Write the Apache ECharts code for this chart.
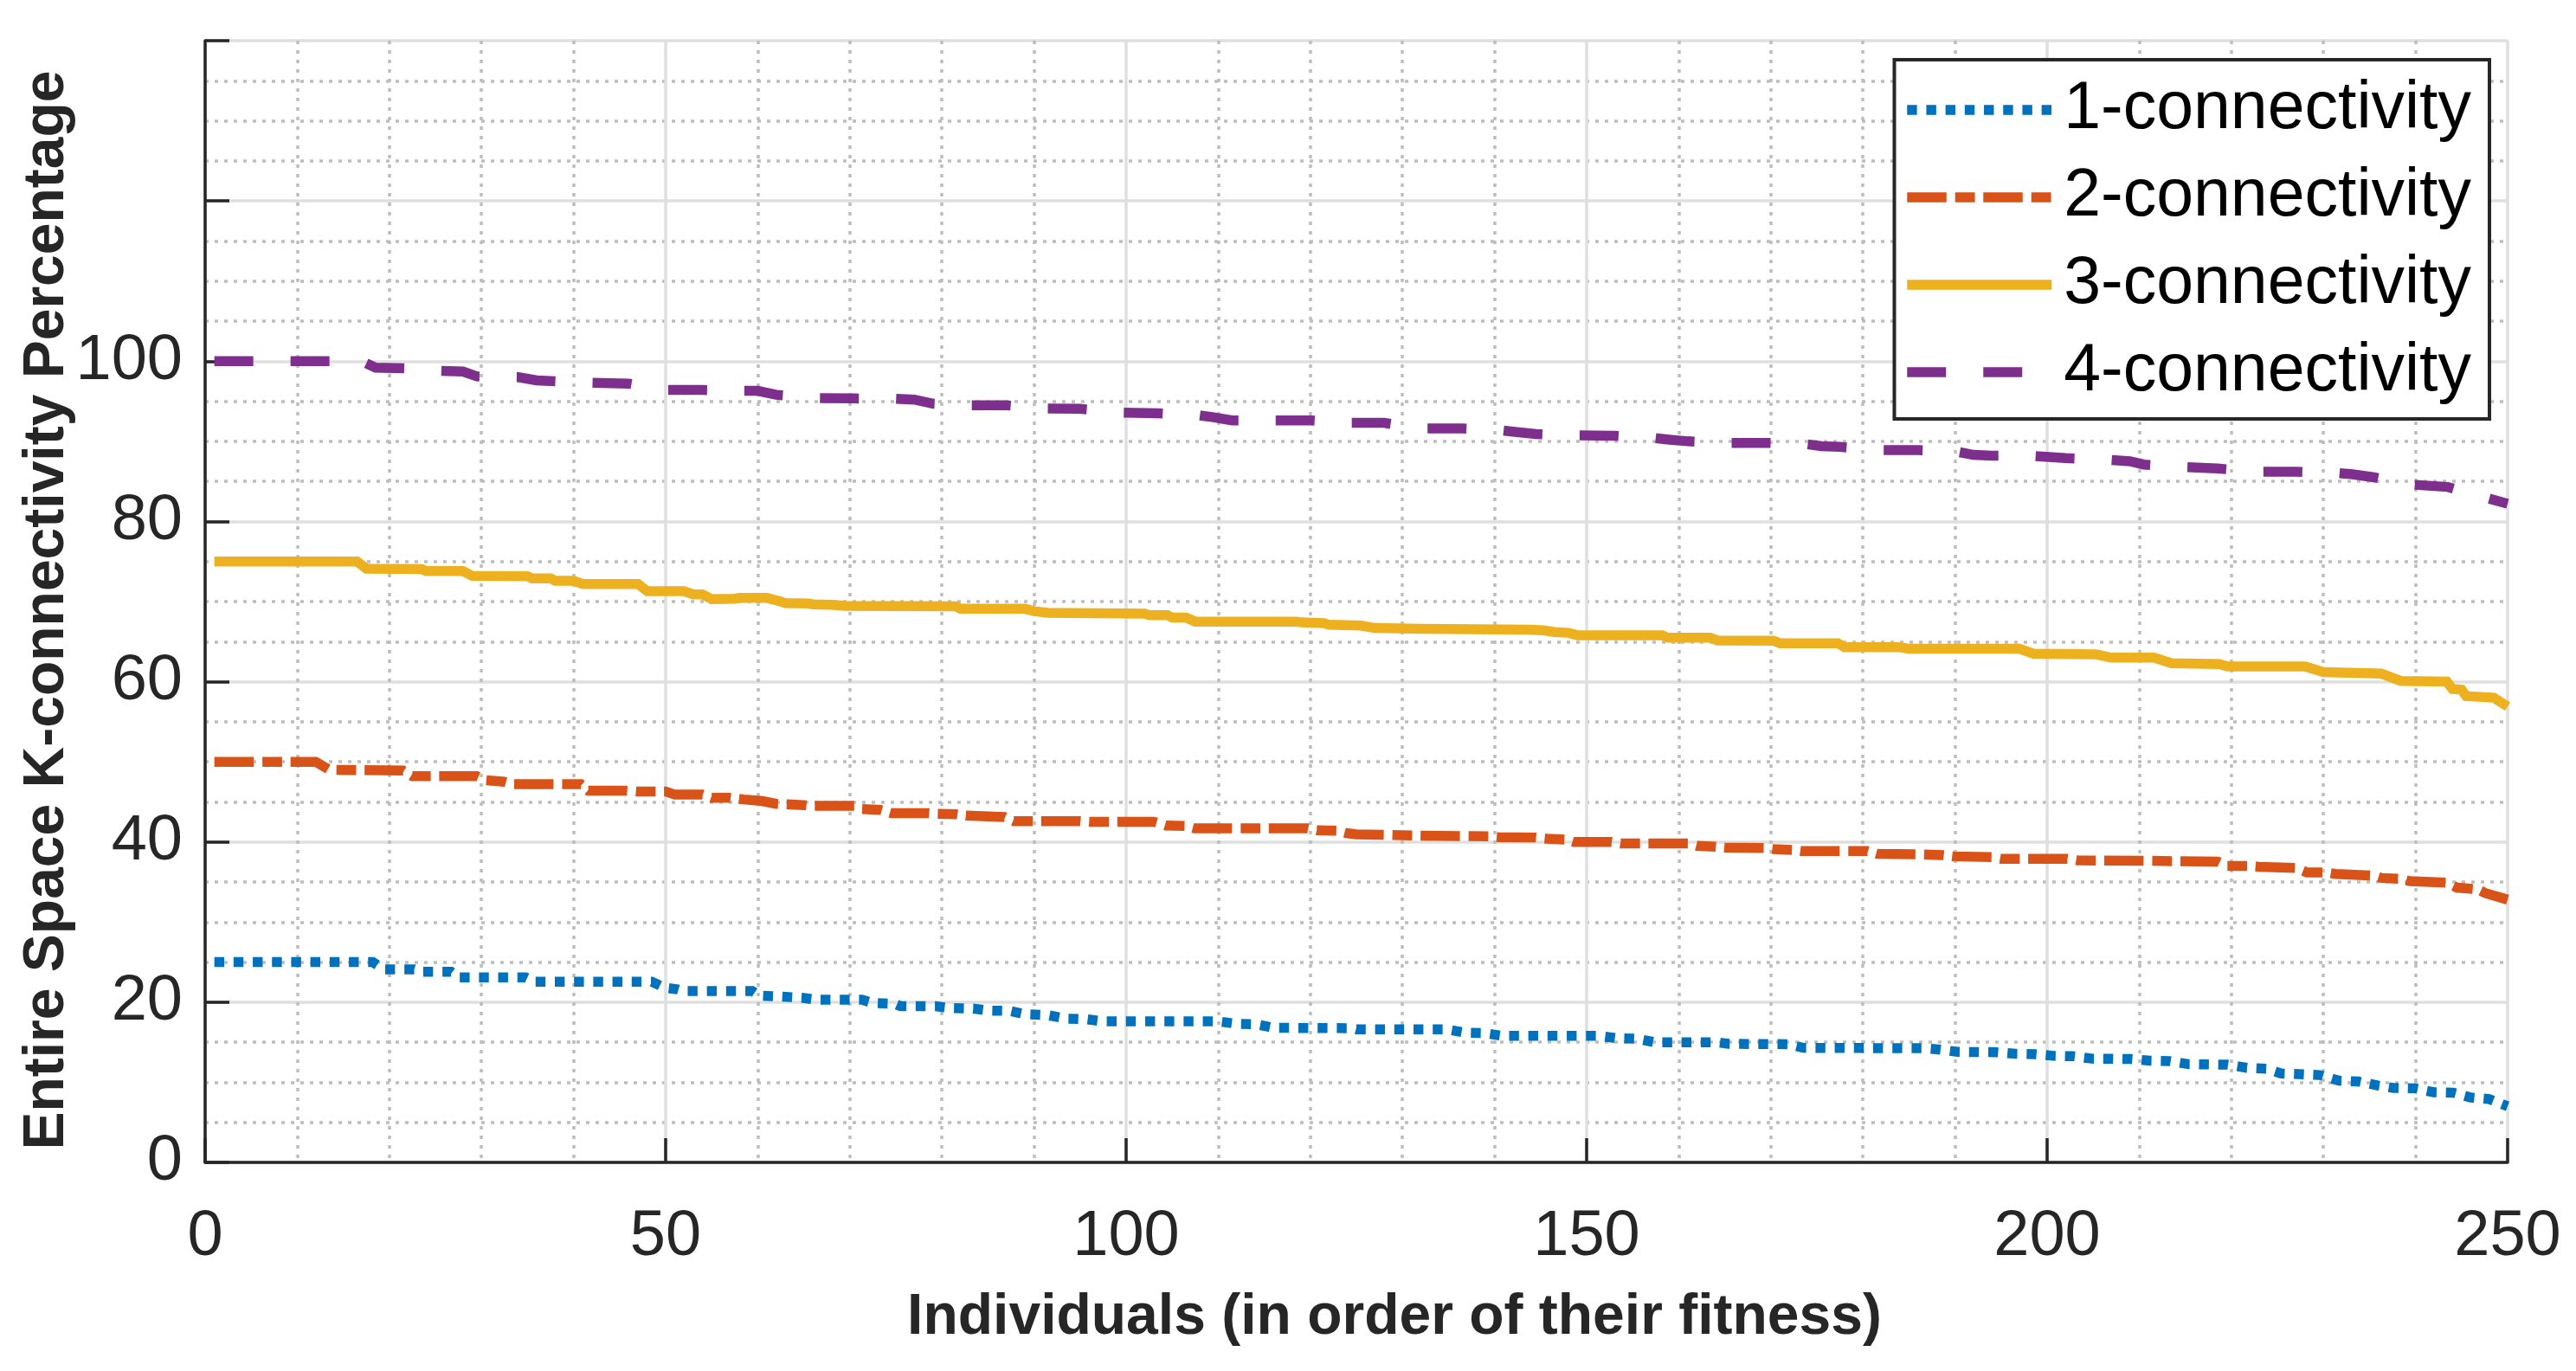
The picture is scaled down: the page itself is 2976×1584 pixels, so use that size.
<!DOCTYPE html>
<html>
<head>
<meta charset="utf-8">
<script src="https://cdn.jsdelivr.net/npm/echarts@6/dist/echarts.min.js"></script>
<style>
html,body{margin:0;padding:0;background:#fff;}
#chart{width:2976px;height:1584px;}
</style>
</head>
<body>
<div id="chart"></div>
<script>
// ---- data (x = individual index, y = percentage) ----
var seriesNames = ['1-connectivity', '2-connectivity', '3-connectivity', '4-connectivity'];
var xTicks = [0, 50, 100, 150, 200, 250];
var yTickLabels = [0, 20, 40, 60, 80, 100];

var conn1 = [[1,25],[18.2,25],[19.4,24.1],[22.7,24.1],[23.5,23.8],[26.7,23.8],[27.5,23.1],[34.8,23.1],[35.8,22.55],[48.5,22.55],[49.9,21.8],[51.3,21.6],[51.9,21.4],[59.4,21.4],[60.2,20.8],[62.5,20.7],[64.8,20.55],[66.4,20.3],[71.3,20.3],[72.5,19.9],[74.9,19.8],[75.5,19.5],[79.3,19.5],[81,19.25],[83.4,19.2],[85,18.95],[87.4,18.9],[89,18.5],[91.4,18.4],[93.5,17.95],[95.5,17.9],[97.5,17.6],[110,17.6],[112,17.3],[114,17.25],[116,16.8],[124.5,16.75],[125,16.6],[134.8,16.6],[136.8,16.2],[138.8,16.15],[140.8,15.8],[151.3,15.8],[153.3,15.5],[155.4,15.45],[157.4,15.0],[164.2,15.0],[165.4,14.8],[171.9,14.75],[173.5,14.3],[186.4,14.25],[188.2,14.1],[190.3,13.8],[194.5,13.75],[196.6,13.55],[198.7,13.5],[200.7,13.3],[202.8,13.25],[204.9,12.95],[209.1,12.9],[211.2,12.7],[213.3,12.65],[215.4,12.25],[219.6,12.2],[221.7,11.8],[223.8,11.7],[225.4,11.1],[229.6,10.9],[231.7,10.2],[233.8,10.1],[235.9,9.6],[237.6,9.3],[239.9,9.25],[242,8.75],[244.1,8.7],[246,8.1],[248,7.9],[250,7.0]];

var conn2 = [[1,50],[12,50],[13.5,49.0],[21.5,48.9],[22.5,48.2],[29.5,48.2],[30.5,47.7],[32.5,47.5],[33.5,47.2],[40.8,47.2],[41.6,46.4],[45.6,46.4],[46.8,46.3],[50,46.3],[51,45.9],[54,45.9],[55,45.5],[57,45.5],[58.5,45.3],[60.5,45.1],[62,44.75],[65,44.6],[66,44.5],[70.5,44.5],[71.3,44.1],[73.3,44.0],[74.5,43.6],[78.5,43.6],[79.5,43.5],[81.6,43.45],[82.6,43.3],[86.8,43.1],[87.8,42.6],[95,42.6],[96,42.5],[103,42.5],[104.3,42.05],[106.4,42.0],[107.4,41.7],[119.7,41.7],[120.7,41.45],[122.9,41.4],[123.9,41.1],[125,40.95],[128,40.9],[131,40.8],[139.4,40.7],[140.4,40.6],[144.5,40.55],[145.7,40.4],[147.7,40.3],[148.6,40.0],[152.7,40.0],[153.7,39.8],[161,39.8],[162,39.5],[164,39.4],[165,39.3],[169.3,39.25],[170.3,39.1],[172.3,39.0],[173.3,38.85],[180.5,38.85],[181.6,38.5],[186,38.45],[188.7,38.35],[189.8,38.2],[194,38.1],[195,37.9],[202.2,37.9],[203.3,37.7],[210.6,37.65],[213.7,37.6],[218.5,37.55],[219.5,37.0],[222,37.0],[223,36.9],[227,36.75],[228.2,36.2],[230.2,36.2],[231.3,36.0],[235.5,35.8],[236.3,35.5],[238.4,35.4],[239.4,35.1],[243.4,34.9],[244.5,34.3],[246.7,34.1],[247.6,33.6],[250,32.8]];

var conn3 = [[1,75],[16.5,75],[17.5,74.1],[23.5,74.05],[24,73.8],[28,73.8],[29,73.2],[35,73.15],[35.5,72.9],[37.5,72.9],[38,72.6],[40,72.6],[41,72.2],[47,72.2],[48,71.3],[52,71.3],[53,70.9],[54,70.9],[55,70.3],[57.5,70.35],[58,70.45],[61,70.45],[62.5,70.0],[63,69.8],[65.5,69.75],[66,69.65],[68,69.6],[69.5,69.45],[81.5,69.4],[82,69.1],[89,69.1],[90,68.8],[91.5,68.6],[102,68.5],[102.5,68.3],[104.5,68.3],[105,68.0],[106.5,68.0],[107.5,67.5],[118.5,67.5],[119,67.4],[121.5,67.3],[122,67.1],[125.5,67.0],[127,66.7],[132,66.6],[143.7,66.5],[145.3,66.4],[146.5,66.2],[148,66.1],[149,65.8],[158.2,65.8],[158.8,65.5],[163.4,65.5],[164.2,65.15],[170.3,65.1],[171,64.8],[177.3,64.8],[178,64.3],[184,64.3],[185,64.1],[197,64.1],[198.5,63.5],[205.3,63.4],[207,63.0],[211.6,63.0],[213.5,62.3],[218.7,62.2],[219.6,61.9],[228,61.9],[230,61.2],[236.3,61.0],[238.4,60.1],[243.4,60.0],[244,59.1],[245,59.0],[245.5,58.2],[248.5,58.0],[250,56.9]];

var conn4 = [[1,100],[17,100],[18.5,99.2],[22,99.1],[25.5,98.8],[28,98.7],[29.5,98.1],[34,98.0],[36,97.6],[38,97.5],[42,97.3],[46,97.2],[50,96.4],[54,96.4],[58,96.3],[60,96.3],[62,95.8],[66.5,95.4],[70.5,95.35],[75,95.3],[77,95.2],[79,94.7],[83,94.5],[87,94.5],[91,94.1],[95,94.05],[99,93.6],[103.5,93.5],[107.5,93.3],[109.5,93.0],[111.5,92.6],[120,92.6],[124,92.3],[128,92.3],[132,91.6],[136.5,91.6],[140.5,91.4],[142,91.2],[144.5,90.9],[148.5,90.75],[153,90.7],[157,90.45],[159,90.2],[161,90.0],[165,89.8],[169.5,89.8],[173.5,89.7],[175.5,89.4],[177.5,89.3],[181.5,88.9],[186,88.9],[190,88.75],[192,88.3],[194,88.2],[198,88.2],[202,87.9],[206.5,87.7],[209,87.5],[210.5,87.1],[214.5,86.8],[218.5,86.6],[223,86.2],[227,86.2],[231,86.1],[233,85.9],[235.5,85.5],[239.5,84.6],[243.5,84.3],[247.5,83.0],[250,82.2]];

var seriesData = [conn1, conn2, conn3, conn4];
var colors = ['#0072BD', '#D95319', '#EDB120', '#7E2F8E'];
var dashes = [[11.4, 10.8], [45.5, 10, 22.8, 9.7], 'solid', [45, 43]];

var FONT = "'Liberation Sans', Arial, Helvetica, sans-serif";
var LW = 11.5;

var chart = echarts.init(document.getElementById('chart'), null, {renderer: 'canvas'});

var series = seriesNames.map(function (name, i) {
  return {
    name: name,
    type: 'line',
    data: seriesData[i],
    symbol: 'none',
    showSymbol: false,
    silent: true,
    z: 3 + i,
    lineStyle: {color: colors[i], width: LW, type: dashes[i], cap: 'butt', join: 'miter'},
    itemStyle: {color: colors[i]}
  };
});

var option = {
  animation: false,
  backgroundColor: '#ffffff',
  textStyle: {fontFamily: FONT},
  grid: {left: 237, right: 79, top: 47, bottom: 241, containLabel: false},
  legend: {
    orient: 'vertical',
    right: 100,
    top: 69,
    data: seriesNames,
    backgroundColor: '#ffffff',
    borderColor: '#262626',
    borderWidth: 4,
    borderRadius: 0,
    padding: [18, 21, 14, 9],
    itemWidth: 167,
    itemHeight: 12,
    itemGap: 21,
    itemStyle: {opacity: 0},
    lineStyle: {width: LW, cap: 'butt'},
    textStyle: {fontFamily: FONT, fontSize: 77, color: '#000000', lineHeight: 80, padding: [0, 0, 0, 9]},
    selectedMode: false
  },
  xAxis: {
    type: 'value',
    min: 0,
    max: 250,
    interval: 50,
    name: 'Individuals (in order of their fitness)',
    nameLocation: 'middle',
    nameGap: 147,
    nameMoveOverlap: false,
    nameTextStyle: {fontFamily: FONT, fontSize: 66, fontWeight: 'bold', color: '#262626', padding: [0, 0, 0, 88]},
    axisLine: {show: true, onZero: false, lineStyle: {color: '#262626', width: 3.5}},
    axisTick: {show: true, inside: true, length: 28, lineStyle: {color: '#262626', width: 3.5}},
    axisLabel: {
      show: true, margin: 50, fontFamily: FONT, fontSize: 74, color: '#262626',
      formatter: function (v) { return xTicks.indexOf(v) >= 0 ? String(v) : ''; }
    },
    splitLine: {show: true, lineStyle: {color: '#dfdfdf', width: 3.5}},
    minorTick: {show: false, splitNumber: 5},
    minorSplitLine: {show: true, lineStyle: {color: '#bdbdbd', width: 3.5, type: [4, 7]}}
  },
  yAxis: {
    type: 'value',
    min: 0,
    max: 140,
    interval: 20,
    name: 'Entire Space K-connectivity Percentage',
    nameLocation: 'middle',
    nameRotate: 90,
    nameGap: 149,
    nameMoveOverlap: false,
    nameTextStyle: {fontFamily: FONT, fontSize: 66, fontWeight: 'bold', color: '#262626', padding: [0, 20, 0, 0]},
    axisLine: {show: true, onZero: false, lineStyle: {color: '#262626', width: 3.5}},
    axisTick: {show: true, inside: true, length: 28, lineStyle: {color: '#262626', width: 3.5}},
    axisLabel: {
      show: true, margin: 26, fontFamily: FONT, fontSize: 74, color: '#262626',
      formatter: function (v) { return yTickLabels.indexOf(v) >= 0 ? String(v) : ''; }
    },
    splitLine: {show: true, lineStyle: {color: '#dfdfdf', width: 3.5}},
    minorTick: {show: false, splitNumber: 4},
    minorSplitLine: {show: true, lineStyle: {color: '#bdbdbd', width: 3.5, type: [4, 7]}}
  },
  series: series
};

chart.setOption(option);
</script>
</body>
</html>
